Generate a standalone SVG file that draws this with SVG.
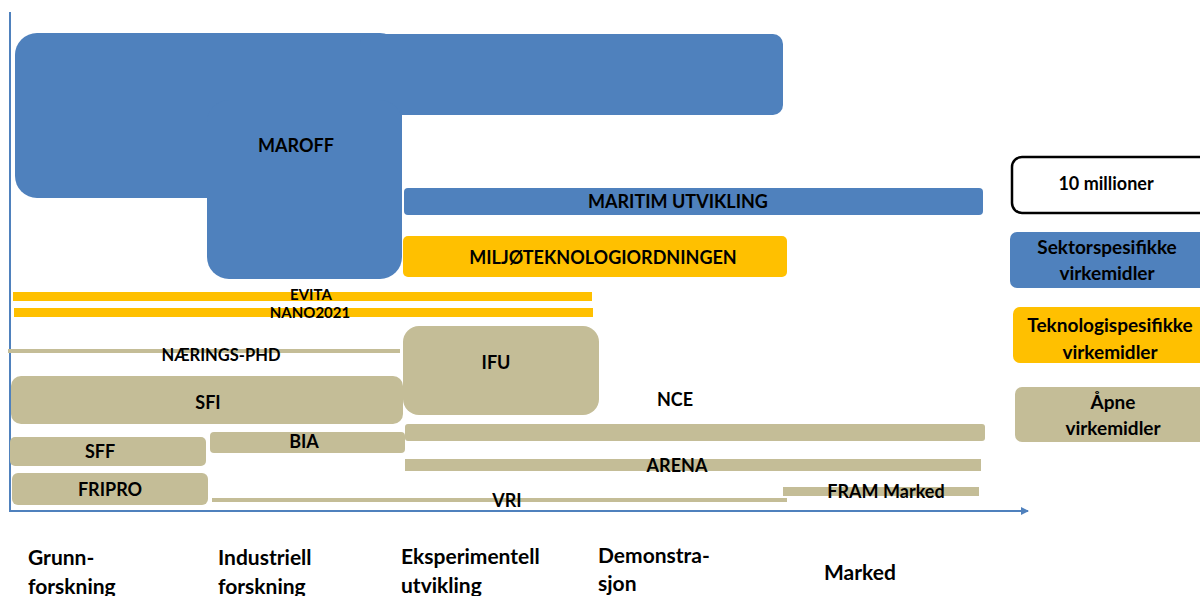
<svg xmlns="http://www.w3.org/2000/svg" width="1200" height="596" viewBox="0 0 1200 596">
<style>
.b{fill:#4F81BD}
.o{fill:#FFC000}
.t{fill:#C4BD97}
text{font-family:Lato,"Liberation Sans",sans-serif;font-weight:bold;fill:#000;text-anchor:middle}
.l{font-size:18px}
.s{font-size:16.5px}
.e{font-size:15px}
.g{font-size:19px}
.ax{font-size:21px;text-anchor:start}
</style>
<defs>
<marker id="arr" markerWidth="8" markerHeight="8" refX="7" refY="4" orient="auto" markerUnits="userSpaceOnUse">
<path d="M0,0 L8,4 L0,8 Z" fill="#4F81BD"/>
</marker>
</defs>
<g id="axes">
<line x1="10" y1="12" x2="10" y2="512" stroke="#4F81BD" stroke-width="2"/>
<line x1="10" y1="511" x2="1028" y2="511" stroke="#4F81BD" stroke-width="2" marker-end="url(#arr)"/>
</g>
<g id="maroff">
<rect class="b" x="15" y="33" width="387" height="165" rx="22"/>
<rect class="b" x="360" y="34" width="423" height="81" rx="10"/>
<rect class="b" x="207" y="100" width="195" height="179" rx="22"/>
<text class="l" x="296" y="152">MAROFF</text>
</g>
<g id="maritim">
<rect class="b" x="404" y="188" width="579" height="27" rx="4"/>
<text class="l" x="678" y="208">MARITIM UTVIKLING</text>
</g>
<g id="miljo">
<rect class="o" x="403" y="236" width="384" height="41" rx="5"/>
<text class="l" x="603" y="264">MILJØTEKNOLOGIORDNINGEN</text>
</g>
<g id="evita">
<rect class="o" x="13" y="292" width="579" height="9"/>
<text class="e" x="311" y="300">EVITA</text>
</g>
<g id="nano">
<rect class="o" x="14" y="308" width="579" height="9"/>
<text class="e" x="310" y="318">NANO2021</text>
</g>
<g id="naerings-phd">
<rect class="t" x="8" y="349" width="392" height="4"/>
<text class="s" x="221" y="361">NÆRINGS-PHD</text>
</g>
<g id="ifu">
<rect class="t" x="403" y="326" width="196" height="89" rx="16"/>
<text class="l" x="496" y="369">IFU</text>
</g>
<g id="sfi">
<rect class="t" x="11" y="376" width="392" height="48" rx="10"/>
<text class="l" x="208" y="409">SFI</text>
</g>
<g id="nce">
<rect class="t" x="405" y="424" width="580" height="17" rx="3"/>
<text class="l" x="675" y="406">NCE</text>
</g>
<g id="bia">
<rect class="t" x="210" y="432" width="195" height="21" rx="4"/>
<text class="l" x="304" y="448">BIA</text>
</g>
<g id="sff">
<rect class="t" x="10" y="437" width="196" height="29" rx="5"/>
<text class="l" x="100" y="458">SFF</text>
</g>
<g id="arena">
<rect class="t" x="405" y="459" width="576" height="12"/>
<text class="l" x="677" y="472">ARENA</text>
</g>
<g id="fripro">
<rect class="t" x="12" y="473" width="196" height="32" rx="6"/>
<text class="l" x="110" y="496">FRIPRO</text>
</g>
<g id="fram">
<rect class="t" x="783" y="487" width="196" height="9"/>
<text class="l" x="886" y="498">FRAM Marked</text>
</g>
<g id="vri">
<rect class="t" x="212" y="498" width="575" height="4"/>
<text class="l" x="507" y="507">VRI</text>
</g>
<g id="legend-10">
<rect x="1012" y="157" width="200" height="56" rx="10" fill="#fff" stroke="#000" stroke-width="2.5"/>
<text class="l" x="1106" y="190">10 millioner</text>
</g>
<g id="legend-sektor">
<rect class="b" x="1010" y="232" width="200" height="56" rx="7"/>
<text class="g" x="1107" y="254">Sektorspesifikke</text>
<text class="g" x="1107" y="280">virkemidler</text>
</g>
<g id="legend-tekno">
<rect class="o" x="1013" y="307" width="200" height="56" rx="7"/>
<text class="g" x="1110" y="332">Teknologispesifikke</text>
<text class="g" x="1110" y="359">virkemidler</text>
</g>
<g id="legend-apne">
<rect class="t" x="1015" y="387" width="200" height="55" rx="7"/>
<text class="g" x="1113" y="409">Åpne</text>
<text class="g" x="1113" y="435">virkemidler</text>
</g>
<g id="axis-labels">
<text class="ax" x="28" y="565">Grunn-</text>
<text class="ax" x="28" y="594">forskning</text>
<text class="ax" x="218" y="565">Industriell</text>
<text class="ax" x="218" y="594">forskning</text>
<text class="ax" x="401" y="564">Eksperimentell</text>
<text class="ax" x="401" y="593">utvikling</text>
<text class="ax" x="598" y="563">Demonstra-</text>
<text class="ax" x="598" y="591">sjon</text>
<text class="ax" x="824" y="580">Marked</text>
</g>
</svg>
